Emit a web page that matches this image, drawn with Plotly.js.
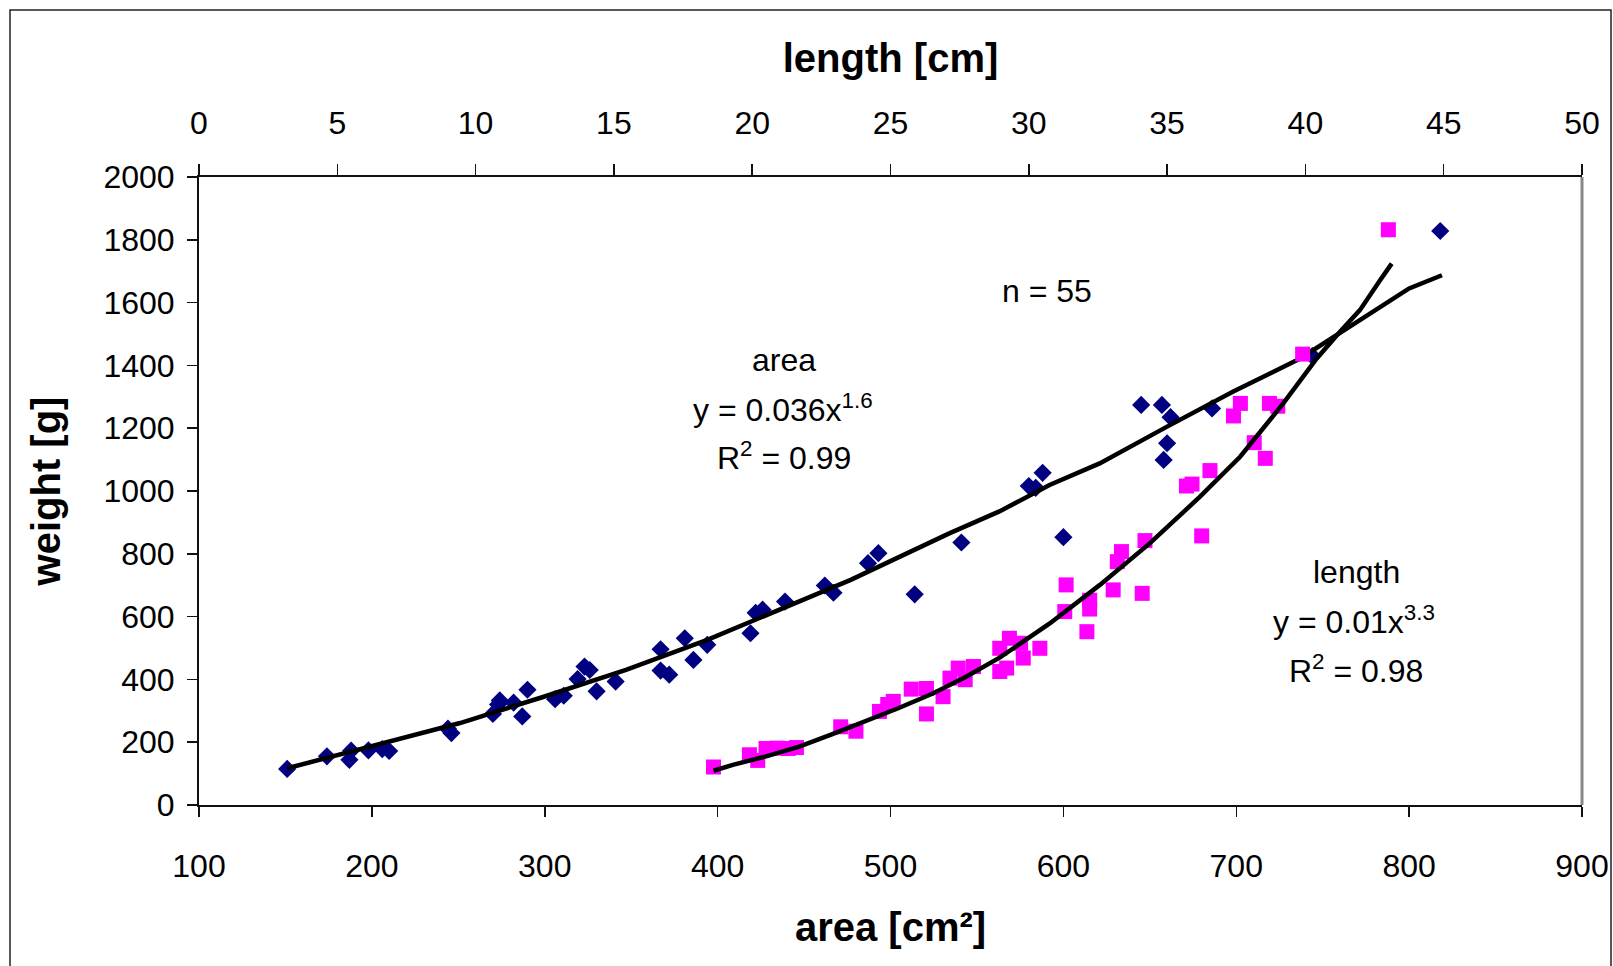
<!DOCTYPE html>
<html>
<head>
<meta charset="utf-8">
<script src="https://cdn.plot.ly/plotly-3.0.1.min.js"></script>
<style>
html,body{margin:0;padding:0;background:#fff;}
#chart{width:1613px;height:966px;}
</style>
</head>
<body>
<div id="chart"></div>
<script>
// ---- data ----
const areaX = [151,174,187,188,198,206,210,244,246,270,273,274,282,287,290,306,311,319,323,326,330,341,367,367,372,381,386,394,419,422,426,439,462,467,487,493,514,541,580,584,588,600,645,657,662,660,658,686,744,818];
const areaW = [115,155,144,173,174,178,172,243,229,290,320,333,326,282,367,337,348,401,441,430,362,393,496,428,415,531,462,510,547,612,622,648,699,676,770,802,671,836,1016,1010,1058,853,1274,1274,1235,1152,1099,1263,1430,1828];

const lengthX = [18.6,19.9,20.2,20.5,20.9,21.3,21.6,23.2,23.75,24.6,24.9,25.1,25.75,26.3,26.3,26.9,27.15,27.45,27.7,28.0,28.95,29.3,28.95,29.2,29.7,29.8,30.4,31.35,31.3,32.2,32.2,32.1,33.05,33.2,33.35,34.1,34.2,35.7,35.9,36.25,36.55,37.4,37.65,38.15,38.55,38.7,39.0,39.9,43.0];
const lengthW = [121,160,142,180,181,180,183,249,235,298,320,330,369,371,290,345,404,436,399,441,499,531,425,436,515,468,499,701,616,652,624,552,685,775,807,674,842,1016,1022,857,1065,1239,1279,1154,1104,1279,1270,1436,1832];

// trend lines
const areaFitX = [151,193,251,299,347,394,419,477,534,563,592,621,660,698,737,766,800,819];
const areaFitW = [117,176,261,344,430,526,584,717,865,935,1019,1088,1205,1316,1422,1523,1645,1687];
const lengthFitX = [18.6,19.3,20.5,21.7,22.9,24.1,25.3,26.55,27.75,28.96,30.77,32.57,34.38,36.19,37.64,39.2,40.41,41.25,41.97,42.7,43.12];
const lengthFitW = [109,128,155,186,226,266,309,356,409,470,579,701,834,982,1109,1279,1422,1507,1576,1671,1724];

const areaTicks = [100,200,300,400,500,600,700,800,900];
const lengthTicks = [0,5,10,15,20,25,30,35,40,45,50];
const weightTicks = [0,200,400,600,800,1000,1200,1400,1600,1800,2000];

// ---- layout ----
const FONT = 'Arial, "Liberation Sans", sans-serif';
const W = 1613, H = 966;
const M = {l:199, r:31, t:177, b:161};
const PW = W - M.l - M.r, PH = H - M.t - M.b;
const px = v => (v - M.l) / PW;          // page x -> paper x
const py = v => (H - M.b - v) / PH;      // page y -> paper y

const axisCommon = {
  showgrid:false, zeroline:false, showline:true,
  linecolor:'#111', linewidth:2,
  tickcolor:'#111', tickwidth:1.5,
  tickfont:{family:FONT, size:32, color:'#000'},
  fixedrange:true
};

const traces = [
  {x:areaX, y:areaW, xaxis:'x', yaxis:'y', type:'scatter', mode:'markers', name:'area',
   marker:{symbol:'diamond', size:14, color:'#000080', line:{width:0}}, hoverinfo:'x+y'},
  {x:lengthX, y:lengthW, xaxis:'x2', yaxis:'y', type:'scatter', mode:'markers', name:'length',
   marker:{symbol:'square', size:15, color:'#FF00FF', line:{width:0}}, hoverinfo:'x+y'},
  {x:areaFitX, y:areaFitW, xaxis:'x', yaxis:'y', type:'scatter', mode:'lines', name:'area fit',
   line:{color:'#000', width:4.5}, hoverinfo:'skip'},
  {x:lengthFitX, y:lengthFitW, xaxis:'x2', yaxis:'y', type:'scatter', mode:'lines', name:'length fit',
   line:{color:'#000', width:4.5}, hoverinfo:'skip'}
];

const layout = {
  width:W, height:H,
  margin:{l:M.l, r:M.r, t:M.t, b:M.b, pad:0},
  paper_bgcolor:'#fff', plot_bgcolor:'#fff',
  showlegend:false,
  font:{family:FONT, size:32, color:'#000'},
  xaxis:Object.assign({}, axisCommon, {
    range:[100,900], tickvals:areaTicks, ticktext:areaTicks.map(String),
    ticks:'outside', ticklen:10, ticklabelstandoff:22,
    side:'bottom', anchor:'y',
    title:{text:'area [cm²]', font:{family:FONT, size:40, weight:'bold', color:'#000'}, standoff:30}
  }),
  xaxis2:Object.assign({}, axisCommon, {
    range:[0,50], tickvals:lengthTicks, ticktext:lengthTicks.map(String),
    ticks:'outside', ticklen:11, ticklabelstandoff:17,
    side:'top', anchor:'y', overlaying:'x',
    title:{text:'length [cm]', font:{family:FONT, size:40, weight:'bold', color:'#000'}, standoff:20}
  }),
  xaxis3:Object.assign({}, axisCommon, {
    range:[0,50], tickvals:lengthTicks, showticklabels:false,
    ticks:'inside', ticklen:11, showline:false,
    side:'top', anchor:'y', overlaying:'x'
  }),
  yaxis:Object.assign({}, axisCommon, {
    range:[0,2000], tickvals:weightTicks, ticktext:weightTicks.map(String),
    ticks:'outside', ticklen:10, ticklabelstandoff:6,
    side:'left', anchor:'x',
    title:{text:'weight [g]', font:{family:FONT, size:40, weight:'bold', color:'#000'}, standoff:30}
  }),
  shapes:[
    {type:'line', xref:'paper', yref:'paper', x0:1, x1:1, y0:0, y1:1,
     line:{color:'#888', width:3}},
    {type:'rect', xref:'paper', yref:'paper', x0:px(10), x1:px(1611), y0:py(980), y1:py(10),
     line:{color:'#222', width:1.5}, fillcolor:'rgba(0,0,0,0)', layer:'below'}
  ],
  annotations:[
    {text:'n = 55', x:590.6, y:1574, xref:'x', yref:'y', xanchor:'center', yanchor:'bottom', showarrow:false, font:{size:32}},
    {text:'area', x:438.4, y:1354, xref:'x', yref:'y', xanchor:'center', yanchor:'bottom', showarrow:false, font:{size:32}},
    {text:'y = 0.036x<sup>1.6</sup>', x:438.1, y:1195, xref:'x', yref:'y', xanchor:'center', yanchor:'bottom', showarrow:false, font:{size:32}},
    {text:'R<sup>2</sup> = 0.99', x:438.4, y:1041, xref:'x', yref:'y', xanchor:'center', yanchor:'bottom', showarrow:false, font:{size:32}},
    {text:'length', x:769.3, y:678, xref:'x', yref:'y', xanchor:'center', yanchor:'bottom', showarrow:false, font:{size:32}},
    {text:'y = 0.01x<sup>3.3</sup>', x:768.2, y:520, xref:'x', yref:'y', xanchor:'center', yanchor:'bottom', showarrow:false, font:{size:32}},
    {text:'R<sup>2</sup> = 0.98', x:769.3, y:363, xref:'x', yref:'y', xanchor:'center', yanchor:'bottom', showarrow:false, font:{size:32}}
  ]
};

Plotly.newPlot('chart', traces, layout, {displayModeBar:false, staticPlot:true});
</script>
</body>
</html>
